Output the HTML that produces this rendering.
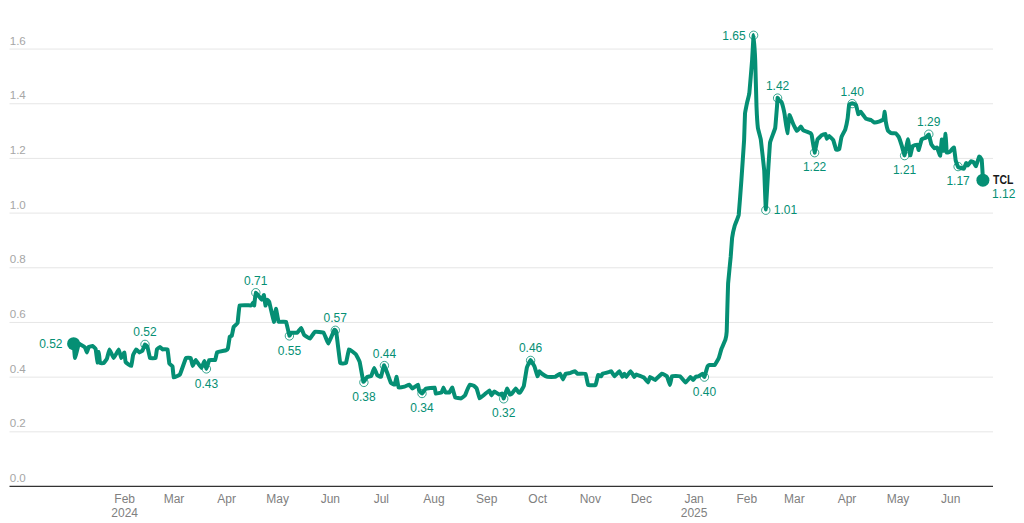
<!DOCTYPE html><html><head><meta charset="utf-8"><style>html,body{margin:0;padding:0;background:#fff;}body{width:1024px;height:523px;overflow:hidden;font-family:"Liberation Sans",sans-serif;}svg{display:block}text{font-family:"Liberation Sans",sans-serif}</style></head><body>
<svg width="1024" height="523" viewBox="0 0 1024 523">
<line x1="9.5" x2="993" y1="431.82" y2="431.82" stroke="#e6e6e6" stroke-width="1"/>
<line x1="9.5" x2="993" y1="377.14" y2="377.14" stroke="#e6e6e6" stroke-width="1"/>
<line x1="9.5" x2="993" y1="322.46" y2="322.46" stroke="#e6e6e6" stroke-width="1"/>
<line x1="9.5" x2="993" y1="267.78" y2="267.78" stroke="#e6e6e6" stroke-width="1"/>
<line x1="9.5" x2="993" y1="213.10" y2="213.10" stroke="#e6e6e6" stroke-width="1"/>
<line x1="9.5" x2="993" y1="158.42" y2="158.42" stroke="#e6e6e6" stroke-width="1"/>
<line x1="9.5" x2="993" y1="103.74" y2="103.74" stroke="#e6e6e6" stroke-width="1"/>
<line x1="9.5" x2="993" y1="49.06" y2="49.06" stroke="#e6e6e6" stroke-width="1"/>
<text x="9.7" y="482.10" font-size="11.6" fill="#a6a6a6">0.0</text>
<text x="9.7" y="427.42" font-size="11.6" fill="#a6a6a6">0.2</text>
<text x="9.7" y="372.74" font-size="11.6" fill="#a6a6a6">0.4</text>
<text x="9.7" y="318.06" font-size="11.6" fill="#a6a6a6">0.6</text>
<text x="9.7" y="263.38" font-size="11.6" fill="#a6a6a6">0.8</text>
<text x="9.7" y="208.70" font-size="11.6" fill="#a6a6a6">1.0</text>
<text x="9.7" y="154.02" font-size="11.6" fill="#a6a6a6">1.2</text>
<text x="9.7" y="99.34" font-size="11.6" fill="#a6a6a6">1.4</text>
<text x="9.7" y="44.66" font-size="11.6" fill="#a6a6a6">1.6</text>
<line x1="9.5" x2="993" y1="486.4" y2="486.4" stroke="#333" stroke-width="1.2"/>
<text x="124.70" y="503" font-size="12" fill="#808080" text-anchor="middle">Feb</text>
<text x="124.70" y="517" font-size="12" fill="#808080" text-anchor="middle">2024</text>
<text x="173.99" y="503" font-size="12" fill="#808080" text-anchor="middle">Mar</text>
<text x="226.68" y="503" font-size="12" fill="#808080" text-anchor="middle">Apr</text>
<text x="277.66" y="503" font-size="12" fill="#808080" text-anchor="middle">May</text>
<text x="330.35" y="503" font-size="12" fill="#808080" text-anchor="middle">Jun</text>
<text x="381.34" y="503" font-size="12" fill="#808080" text-anchor="middle">Jul</text>
<text x="434.03" y="503" font-size="12" fill="#808080" text-anchor="middle">Aug</text>
<text x="486.71" y="503" font-size="12" fill="#808080" text-anchor="middle">Sep</text>
<text x="537.70" y="503" font-size="12" fill="#808080" text-anchor="middle">Oct</text>
<text x="590.39" y="503" font-size="12" fill="#808080" text-anchor="middle">Nov</text>
<text x="641.38" y="503" font-size="12" fill="#808080" text-anchor="middle">Dec</text>
<text x="694.07" y="503" font-size="12" fill="#808080" text-anchor="middle">Jan</text>
<text x="694.07" y="517" font-size="12" fill="#808080" text-anchor="middle">2025</text>
<text x="746.75" y="503" font-size="12" fill="#808080" text-anchor="middle">Feb</text>
<text x="794.34" y="503" font-size="12" fill="#808080" text-anchor="middle">Mar</text>
<text x="847.03" y="503" font-size="12" fill="#808080" text-anchor="middle">Apr</text>
<text x="898.02" y="503" font-size="12" fill="#808080" text-anchor="middle">May</text>
<text x="950.71" y="503" font-size="12" fill="#808080" text-anchor="middle">Jun</text>
<circle cx="145" cy="344.4" r="4.2" fill="#fff" stroke="#058f74" stroke-width="0.8"/>
<circle cx="206.4" cy="368.9" r="4.2" fill="#fff" stroke="#058f74" stroke-width="0.8"/>
<circle cx="255.8" cy="292.7" r="4.2" fill="#fff" stroke="#058f74" stroke-width="0.8"/>
<circle cx="289.4" cy="335.9" r="4.2" fill="#fff" stroke="#058f74" stroke-width="0.8"/>
<circle cx="335.3" cy="330.3" r="4.2" fill="#fff" stroke="#058f74" stroke-width="0.8"/>
<circle cx="363.9" cy="382.4" r="4.2" fill="#fff" stroke="#058f74" stroke-width="0.8"/>
<circle cx="384.4" cy="365.6" r="4.2" fill="#fff" stroke="#058f74" stroke-width="0.8"/>
<circle cx="422" cy="393.5" r="4.2" fill="#fff" stroke="#058f74" stroke-width="0.8"/>
<circle cx="503.7" cy="398.8" r="4.2" fill="#fff" stroke="#058f74" stroke-width="0.8"/>
<circle cx="530.6" cy="360.4" r="4.2" fill="#fff" stroke="#058f74" stroke-width="0.8"/>
<circle cx="704.4" cy="377.1" r="4.2" fill="#fff" stroke="#058f74" stroke-width="0.8"/>
<circle cx="753.6" cy="35.3" r="4.2" fill="#fff" stroke="#058f74" stroke-width="0.8"/>
<circle cx="765.8" cy="210.2" r="4.2" fill="#fff" stroke="#058f74" stroke-width="0.8"/>
<circle cx="777.6" cy="98.1" r="4.2" fill="#fff" stroke="#058f74" stroke-width="0.8"/>
<circle cx="814.6" cy="152.7" r="4.2" fill="#fff" stroke="#058f74" stroke-width="0.8"/>
<circle cx="852.2" cy="103.6" r="4.2" fill="#fff" stroke="#058f74" stroke-width="0.8"/>
<circle cx="904.6" cy="155.6" r="4.2" fill="#fff" stroke="#058f74" stroke-width="0.8"/>
<circle cx="928.8" cy="134.2" r="4.2" fill="#fff" stroke="#058f74" stroke-width="0.8"/>
<circle cx="958.1" cy="166.6" r="4.2" fill="#fff" stroke="#058f74" stroke-width="0.8"/>
<path d="M73.75,343.75 C73.79,344.23 74.83,358.00 75.00,358.00 C75.17,358.00 78.54,344.18 78.75,343.75 C78.96,343.32 81.04,344.88 81.25,345.00 C81.46,345.12 84.81,347.25 85.00,347.50 C85.19,347.75 86.78,352.52 86.90,352.50 C87.03,352.48 88.56,347.12 88.75,346.90 C88.94,346.68 92.27,345.94 92.50,346.00 C92.73,346.06 95.43,348.20 95.60,348.75 C95.77,349.30 97.39,362.39 97.50,362.50 C97.61,362.61 98.67,351.98 98.75,352.00 C98.83,352.02 99.83,362.63 100.00,363.00 C100.17,363.37 103.52,363.14 103.75,363.00 C103.98,362.86 106.71,359.20 106.90,358.75 C107.09,358.30 109.17,349.42 109.40,349.40 C109.63,349.38 113.44,358.00 113.75,358.00 C114.06,358.00 118.50,349.40 118.75,349.40 C119.00,349.40 121.06,357.90 121.25,358.00 C121.44,358.10 124.26,352.37 124.40,352.50 C124.55,352.63 125.37,361.55 125.60,362.00 C125.83,362.45 131.00,366.23 131.25,366.00 C131.50,365.77 132.93,355.55 133.10,355.00 C133.27,354.45 136.04,349.48 136.25,349.40 C136.46,349.32 139.19,352.46 139.40,352.50 C139.61,352.54 142.31,350.87 142.50,350.60 C142.69,350.33 144.83,344.52 145.00,344.40 C145.17,344.28 147.33,346.45 147.50,346.90 C147.67,347.35 149.73,357.63 150.00,358.00 C150.27,358.37 155.37,358.29 155.60,358.00 C155.83,357.71 156.75,349.77 156.90,349.40 C157.05,349.03 159.81,346.90 160.00,346.90 C160.19,346.90 162.25,349.32 162.50,349.40 C162.75,349.48 167.27,348.92 167.50,349.40 C167.73,349.88 169.23,363.19 169.40,363.75 C169.57,364.31 172.35,365.79 172.50,366.25 C172.65,366.71 173.50,377.23 173.75,377.50 C174.00,377.77 179.59,375.05 180.00,374.40 C180.41,373.75 185.54,358.64 185.90,358.10 C186.26,357.56 190.47,357.84 190.70,358.10 C190.93,358.36 192.54,365.94 192.70,366.00 C192.86,366.06 195.31,359.94 195.60,360.00 C195.89,360.06 201.21,367.87 201.50,367.90 C201.79,367.93 204.24,360.97 204.40,361.00 C204.56,361.03 206.24,368.93 206.40,368.90 C206.56,368.87 209.01,360.30 209.30,360.00 C209.59,359.70 214.94,360.26 215.20,360.00 C215.46,359.74 216.74,352.62 217.10,352.30 C217.46,351.98 225.54,350.43 225.90,350.30 C226.26,350.17 227.77,348.86 227.90,348.40 C228.03,347.94 229.67,337.02 229.80,336.60 C229.93,336.18 231.67,336.02 231.80,335.70 C231.93,335.38 233.51,327.32 233.70,326.90 C233.89,326.48 237.40,323.72 237.60,323.00 C237.80,322.28 239.14,305.99 239.60,305.40 C240.06,304.81 250.85,305.50 251.30,305.40 C251.75,305.30 253.10,302.50 253.20,302.50 C253.30,302.50 254.11,305.73 254.20,305.40 C254.29,305.07 255.55,292.89 255.80,292.70 C256.05,292.51 261.53,299.62 261.80,299.70 C262.07,299.78 263.78,294.81 263.90,295.00 C264.02,295.19 265.39,305.34 265.50,305.50 C265.61,305.66 266.98,299.82 267.10,299.70 C267.22,299.58 268.97,301.06 269.20,301.80 C269.43,302.54 273.67,321.57 273.90,321.80 C274.13,322.03 275.84,308.70 276.00,308.70 C276.16,308.70 278.27,321.36 278.60,321.80 C278.93,322.24 285.64,321.34 286.00,321.80 C286.36,322.26 289.22,335.34 289.40,335.70 C289.58,336.06 291.04,332.80 291.30,332.70 C291.56,332.60 296.87,332.86 297.20,332.70 C297.53,332.54 300.87,327.83 301.10,327.90 C301.33,327.97 303.71,334.34 304.00,334.70 C304.29,335.06 309.54,338.70 309.90,338.60 C310.26,338.50 314.34,332.00 314.80,331.80 C315.26,331.60 323.15,332.31 323.60,332.70 C324.05,333.09 328.04,343.60 328.40,343.50 C328.76,343.40 334.04,330.19 334.30,329.80 C334.56,329.41 336.05,330.69 336.25,331.80 C336.45,332.91 339.88,361.96 340.20,363.00 C340.52,364.04 345.71,363.46 346.00,363.00 C346.29,362.54 348.67,349.59 349.00,349.30 C349.33,349.01 355.44,353.78 355.80,354.20 C356.16,354.62 359.45,361.08 359.70,362.00 C359.95,362.92 363.15,381.30 363.40,381.80 C363.65,382.30 367.04,377.10 367.30,376.90 C367.56,376.70 371.02,376.19 371.25,375.90 C371.48,375.61 374.00,368.13 374.20,368.10 C374.39,368.07 376.87,374.61 377.10,374.90 C377.33,375.19 380.77,377.22 381.00,376.90 C381.23,376.58 383.70,365.36 383.90,365.20 C384.10,365.04 386.67,371.42 386.90,372.00 C387.13,372.58 390.54,382.28 390.80,382.70 C391.06,383.12 394.51,384.89 394.70,384.70 C394.89,384.51 396.47,376.80 396.60,376.90 C396.73,377.00 398.34,387.28 398.60,387.60 C398.86,387.92 404.14,386.70 404.50,386.60 C404.86,386.50 409.04,384.63 409.30,384.70 C409.56,384.77 412.01,388.60 412.30,388.60 C412.59,388.60 417.87,384.64 418.10,384.70 C418.33,384.76 418.97,390.21 419.10,390.50 C419.23,390.79 421.77,393.56 422.00,393.50 C422.23,393.44 425.48,388.80 425.90,388.60 C426.32,388.40 434.37,387.44 434.70,387.60 C435.03,387.76 435.47,393.34 435.70,393.50 C435.93,393.66 441.34,392.70 441.60,392.50 C441.86,392.30 443.37,387.60 443.50,387.60 C443.63,387.60 445.30,392.34 445.50,392.50 C445.70,392.66 449.17,392.66 449.40,392.50 C449.63,392.34 452.11,387.44 452.30,387.60 C452.49,387.76 454.91,397.04 455.20,397.40 C455.49,397.76 460.77,398.47 461.10,398.40 C461.43,398.33 464.80,395.66 465.00,395.40 C465.20,395.14 466.84,390.86 467.00,390.50 C467.16,390.14 469.67,384.86 469.90,384.70 C470.13,384.54 473.57,385.57 473.80,385.70 C474.03,385.83 476.51,388.18 476.70,388.60 C476.89,389.02 479.34,398.20 479.60,398.40 C479.86,398.60 484.17,394.76 484.50,394.50 C484.83,394.24 489.17,390.47 489.40,390.50 C489.63,390.53 491.24,395.37 491.40,395.40 C491.56,395.43 494.04,391.53 494.30,391.50 C494.56,391.47 498.94,394.43 499.20,394.50 C499.46,394.57 501.95,393.37 502.10,393.50 C502.25,393.63 503.54,398.56 503.70,398.40 C503.86,398.24 506.79,388.73 507.00,388.60 C507.21,388.47 509.74,394.34 509.90,394.50 C510.06,394.66 511.70,393.70 511.90,393.50 C512.10,393.30 515.57,388.63 515.80,388.60 C516.03,388.57 518.56,392.37 518.70,392.50 C518.84,392.63 519.83,392.71 520.00,392.50 C520.17,392.29 523.52,387.08 523.75,386.25 C523.98,385.42 526.67,368.38 526.90,367.50 C527.13,366.62 530.35,360.04 530.60,360.00 C530.85,359.96 534.17,365.71 534.40,366.25 C534.63,366.79 537.33,376.08 537.50,376.25 C537.67,376.42 539.25,371.33 539.40,371.25 C539.55,371.17 541.63,373.56 541.90,373.75 C542.17,373.94 547.06,376.79 547.50,376.90 C547.94,377.00 554.58,377.00 555.00,376.90 C555.42,376.79 559.73,373.67 560.00,373.75 C560.27,373.83 562.91,379.40 563.10,379.40 C563.29,379.40 565.37,373.96 565.60,373.75 C565.83,373.54 569.69,373.18 570.00,373.10 C570.31,373.02 574.75,371.23 575.00,371.25 C575.25,371.27 577.15,373.67 577.50,373.75 C577.85,373.83 585.25,373.38 585.60,373.75 C585.95,374.12 587.77,384.62 588.10,385.00 C588.43,385.38 595.27,385.33 595.60,385.00 C595.93,384.67 597.91,375.29 598.10,375.00 C598.29,374.71 601.10,376.29 601.25,376.25 C601.40,376.21 602.23,373.89 602.50,373.75 C602.77,373.61 609.11,371.98 609.40,371.90 C609.69,371.82 611.08,371.11 611.25,371.25 C611.42,371.39 614.13,376.25 614.40,376.25 C614.67,376.25 619.13,371.23 619.40,371.25 C619.67,371.27 622.33,376.82 622.50,376.90 C622.67,376.98 624.27,373.75 624.40,373.75 C624.52,373.75 626.04,376.98 626.25,376.90 C626.46,376.82 630.33,371.25 630.60,371.25 C630.87,371.25 634.21,376.79 634.40,376.90 C634.59,377.00 635.94,374.38 636.25,374.40 C636.56,374.42 643.36,377.23 643.75,377.50 C644.14,377.77 647.89,382.52 648.10,382.50 C648.31,382.48 649.77,376.98 650.00,376.90 C650.23,376.82 654.60,380.11 655.00,380.00 C655.40,379.89 661.50,373.88 661.90,373.75 C662.30,373.62 666.63,375.88 666.90,376.25 C667.17,376.62 669.83,385.00 670.00,385.00 C670.17,385.00 671.57,376.54 671.90,376.25 C672.23,375.96 679.54,376.04 680.00,376.25 C680.46,376.46 685.25,382.48 685.60,382.50 C685.95,382.52 690.35,376.98 690.60,376.90 C690.85,376.82 692.93,380.00 693.10,380.00 C693.27,380.00 695.41,377.02 695.60,376.90 C695.79,376.77 698.52,376.36 698.75,376.25 C698.98,376.14 702.31,373.73 702.50,373.75 C702.69,373.77 704.23,377.14 704.40,376.90 C704.57,376.66 707.33,366.90 707.50,366.50 C707.67,366.10 709.16,365.05 709.40,365.00 C709.64,364.95 714.39,365.22 714.70,365.00 C715.01,364.78 718.48,358.83 718.70,358.30 C718.92,357.77 721.18,349.62 721.40,349.00 C721.62,348.38 725.22,340.18 725.40,339.60 C725.58,339.02 726.64,332.58 726.70,331.60 C726.76,330.62 727.25,311.80 727.30,310.20 C727.35,308.60 727.99,285.28 728.10,283.50 C728.21,281.72 730.57,258.22 730.70,256.70 C730.83,255.18 731.97,239.03 732.10,238.00 C732.23,236.97 734.48,226.47 734.70,225.70 C734.92,224.93 738.48,216.52 738.70,215.00 C738.92,213.48 741.22,182.70 741.40,180.20 C741.58,177.70 743.98,142.32 744.10,140.10 C744.22,137.88 744.90,114.96 745.00,113.70 C745.10,112.44 747.06,102.87 747.20,102.20 C747.34,101.53 749.14,95.00 749.30,93.60 C749.46,92.20 751.96,62.15 752.10,60.20 C752.24,58.25 753.50,35.10 753.60,35.10 C753.70,35.10 755.10,57.82 755.20,60.20 C755.30,62.58 756.41,104.24 756.50,106.50 C756.59,108.76 757.76,126.90 757.90,128.00 C758.04,129.10 760.59,138.09 760.80,139.50 C761.01,140.91 764.03,167.87 764.20,170.20 C764.37,172.53 765.67,209.40 765.80,209.40 C765.93,209.40 768.06,172.43 768.20,170.20 C768.34,167.97 769.87,143.81 770.10,142.40 C770.33,140.99 774.97,129.20 775.20,128.00 C775.43,126.80 776.92,107.50 777.00,106.50 C777.08,105.50 777.52,98.09 777.60,97.90 C777.68,97.71 779.37,100.66 779.50,100.80 C779.63,100.94 781.43,101.77 781.60,102.20 C781.77,102.63 784.31,112.67 784.50,113.70 C784.69,114.73 787.13,133.05 787.30,133.10 C787.47,133.15 789.31,115.41 789.50,115.10 C789.69,114.79 792.86,123.17 793.10,123.70 C793.34,124.23 796.44,130.80 796.70,130.90 C796.96,131.00 800.79,126.62 801.00,126.60 C801.21,126.58 802.79,129.98 803.10,130.20 C803.41,130.42 810.01,132.93 810.30,133.10 C810.59,133.27 811.56,134.55 811.70,135.20 C811.84,135.85 814.41,152.46 814.60,152.60 C814.79,152.74 817.26,140.08 817.50,139.50 C817.74,138.92 821.54,135.39 821.80,135.20 C822.06,135.01 825.23,133.68 825.40,133.80 C825.57,133.92 826.68,138.73 826.80,138.80 C826.92,138.87 828.78,135.85 829.00,135.90 C829.22,135.95 833.06,139.74 833.30,140.20 C833.54,140.66 835.90,149.30 836.10,149.60 C836.30,149.90 839.02,149.62 839.20,149.20 C839.38,148.78 841.30,137.66 841.50,137.00 C841.70,136.34 845.10,129.91 845.30,129.30 C845.50,128.69 847.47,119.41 847.60,118.60 C847.73,117.79 848.95,105.41 849.10,104.90 C849.25,104.39 851.97,103.30 852.20,103.30 C852.43,103.30 855.80,104.54 856.00,104.90 C856.20,105.26 858.15,113.87 858.30,114.10 C858.45,114.33 860.35,111.65 860.60,111.80 C860.85,111.95 865.54,118.32 865.90,118.60 C866.26,118.88 871.02,120.07 871.30,120.20 C871.58,120.33 874.05,122.45 874.30,122.50 C874.55,122.55 878.59,121.80 878.90,121.70 C879.21,121.60 883.31,119.73 883.50,119.40 C883.69,119.07 884.62,111.72 884.70,111.80 C884.78,111.88 885.69,121.06 885.80,121.70 C885.91,122.34 887.92,130.52 888.10,130.90 C888.28,131.28 890.95,133.12 891.20,133.20 C891.45,133.28 895.45,133.07 895.70,133.20 C895.95,133.33 898.59,136.57 898.80,137.00 C899.01,137.43 901.71,145.59 901.90,146.20 C902.09,146.81 904.40,155.53 904.60,155.30 C904.80,155.07 907.81,139.30 908.00,139.30 C908.19,139.30 910.15,155.07 910.30,155.30 C910.45,155.53 912.37,146.56 912.60,146.20 C912.83,145.84 917.00,144.47 917.20,144.60 C917.40,144.73 918.55,150.18 918.70,150.00 C918.85,149.82 921.47,139.71 921.70,139.30 C921.93,138.89 925.36,137.96 925.60,137.80 C925.84,137.64 928.61,134.28 928.80,134.50 C928.99,134.72 931.11,143.84 931.30,144.30 C931.49,144.76 934.31,148.19 934.50,148.30 C934.69,148.41 936.81,147.25 937.00,147.50 C937.19,147.75 940.04,155.97 940.20,155.70 C940.36,155.43 941.69,139.56 941.80,139.40 C941.91,139.24 943.37,150.99 943.50,150.80 C943.63,150.61 945.49,133.65 945.60,133.70 C945.71,133.75 946.55,151.80 946.70,152.40 C946.85,153.00 949.76,151.76 950.00,151.60 C950.24,151.44 953.81,147.20 954.00,147.50 C954.19,147.80 955.56,159.85 955.70,160.50 C955.84,161.15 957.83,166.73 958.10,167.00 C958.37,167.27 963.53,168.83 963.80,168.70 C964.07,168.57 966.07,163.11 966.20,163.00 C966.33,162.89 967.64,165.46 967.80,165.40 C967.96,165.34 970.91,161.41 971.10,161.30 C971.29,161.19 973.34,162.04 973.50,162.20 C973.66,162.36 975.81,166.39 976.00,166.20 C976.19,166.01 979.01,156.72 979.20,156.50 C979.39,156.28 981.57,158.92 981.70,159.70 C981.83,160.48 982.96,179.32 983.00,180.00" fill="none" stroke="#058f74" stroke-width="4" stroke-linejoin="round" stroke-linecap="round"/>
<text x="145" y="336.40" font-size="12" fill="#058f74" text-anchor="middle">0.52</text>
<text x="206.4" y="387.50" font-size="12" fill="#058f74" text-anchor="middle">0.43</text>
<text x="255.8" y="284.70" font-size="12" fill="#058f74" text-anchor="middle">0.71</text>
<text x="289.4" y="354.50" font-size="12" fill="#058f74" text-anchor="middle">0.55</text>
<text x="335.3" y="322.30" font-size="12" fill="#058f74" text-anchor="middle">0.57</text>
<text x="363.9" y="401.00" font-size="12" fill="#058f74" text-anchor="middle">0.38</text>
<text x="384.4" y="357.60" font-size="12" fill="#058f74" text-anchor="middle">0.44</text>
<text x="422" y="412.10" font-size="12" fill="#058f74" text-anchor="middle">0.34</text>
<text x="503.7" y="417.40" font-size="12" fill="#058f74" text-anchor="middle">0.32</text>
<text x="530.6" y="352.40" font-size="12" fill="#058f74" text-anchor="middle">0.46</text>
<text x="704.4" y="395.70" font-size="12" fill="#058f74" text-anchor="middle">0.40</text>
<text x="745.6" y="39.5" font-size="12" fill="#058f74" text-anchor="end">1.65</text>
<text x="773.8" y="214.39999999999998" font-size="12" fill="#058f74" text-anchor="start">1.01</text>
<text x="777.6" y="90.10" font-size="12" fill="#058f74" text-anchor="middle">1.42</text>
<text x="814.6" y="171.30" font-size="12" fill="#058f74" text-anchor="middle">1.22</text>
<text x="852.2" y="95.60" font-size="12" fill="#058f74" text-anchor="middle">1.40</text>
<text x="904.6" y="174.20" font-size="12" fill="#058f74" text-anchor="middle">1.21</text>
<text x="928.8" y="126.20" font-size="12" fill="#058f74" text-anchor="middle">1.29</text>
<text x="958.1" y="185.20" font-size="12" fill="#058f74" text-anchor="middle">1.17</text>
<circle cx="73.6" cy="343.7" r="6.5" fill="#058f74"/>
<text x="62.5" y="347.6" font-size="12" fill="#058f74" text-anchor="end">0.52</text>
<circle cx="982.9" cy="180.2" r="6.5" fill="#058f74"/>
<text x="993" y="184.2" font-size="12" font-weight="bold" fill="#1a1a1a" textLength="20.3" lengthAdjust="spacingAndGlyphs">TCL</text>
<text x="992" y="198" font-size="12" fill="#058f74">1.12</text>
</svg></body></html>
